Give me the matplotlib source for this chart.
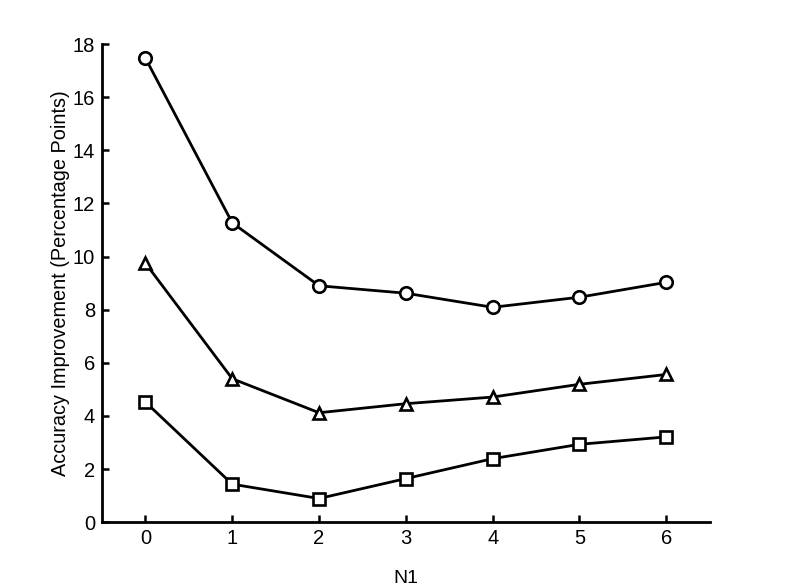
import numpy as np
import matplotlib
matplotlib.use("Agg")
import matplotlib.pyplot as plt

plt.rcParams['font.family'] = ['Liberation Sans', 'DejaVu Sans']

# values
n1 = [0, 1, 2, 3, 4, 5, 6]
circle_vals = [17.47, 11.27, 8.9, 8.62, 8.09, 8.47, 9.03]
triangle_vals = [9.75, 5.4, 4.12, 4.46, 4.71, 5.19, 5.56]
square_vals = [4.52, 1.43, 0.89, 1.64, 2.39, 2.93, 3.21]
y_ticks = [0, 2, 4, 6, 8, 10, 12, 14, 16, 18]

fig = plt.figure(figsize=(7.85, 5.88), dpi=100)
ax = fig.add_axes([0.13, 0.112, 0.774, 0.813])

# three series, all black lines with open markers
for vals, mk, ms in [(circle_vals, 'o', 9), (triangle_vals, '^', 9), (square_vals, 's', 8.5)]:
    ax.plot(n1, vals, color='black', linewidth=2.0, marker=mk, markersize=ms,
            markerfacecolor='white', markeredgecolor='black', markeredgewidth=1.9)

ax.set_xlim(-0.5, 6.5)
ax.set_ylim(0, 18)
ax.set_xticks(n1)
ax.set_yticks(y_ticks)

ax.spines['top'].set_visible(False)
ax.spines['right'].set_visible(False)
ax.spines['left'].set_linewidth(2.0)
ax.spines['bottom'].set_linewidth(2.0)
ax.tick_params(direction='in', length=5, width=1.8, labelsize=14.5, pad=5)

ax.set_xlabel('N1', fontsize=14, labelpad=16)
ax.set_ylabel('Accuracy Improvement (Percentage Points)', fontsize=14.3, labelpad=2)

fig.savefig('out.png', dpi=100)
